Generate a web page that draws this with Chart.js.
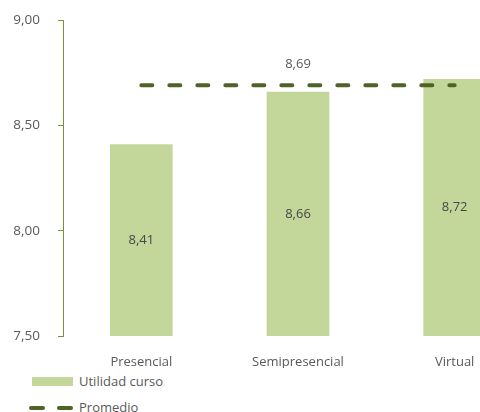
<!DOCTYPE html>
<html>
<head>
<meta charset="utf-8">
<script src="https://cdn.jsdelivr.net/npm/chart.js@4.4.0/dist/chart.umd.min.js"></script>
<style>
    body { margin: 0; overflow: hidden; background: #fff; font-family: 'Open Sans', sans-serif; }
    #wrap { position: relative; width: 540px; height: 412px; }
    #legenda { position: absolute; left: 29px; top: 370px; font-size: 13px; color: #595959; white-space: nowrap; }
    .item { position: relative; height: 26px; width: 200px; }
    .item span { position: absolute; left: 50px; top: 2px; }
    .caixa { position: absolute; left: 3px; top: 7px; width: 41px; height: 9px; background: #c4d79b; }
    .traco { position: absolute; top: 10px; width: 16px; height: 4px; border-radius: 2px; background: #4f6228; }
</style>
</head>
<body>
<div id="wrap">
    <canvas id="chartUtilidade" width="540" height="368"></canvas>
    <div id="legenda">
        <div class="item"><div class="caixa"></div><span>Utilidad curso</span></div>
        <div class="item"><div class="traco" style="left:0px"></div><div class="traco" style="left:28px"></div><span>Promedio</span></div>
    </div>
</div>
<script>
var modalidades = ['Presencial', 'Semipresencial', 'Virtual'];
var utilidadCurso = [8.41, 8.66, 8.72];
var promedio = [8.69, 8.69, 8.69];
var ticksY = [7.5, 8.0, 8.5, 9.0];

var corTexto = '#595959';
var corEixo = '#76923c';

function formatar(v) {
    return v.toFixed(2).replace('.', ',');
}

// rótulos dos valores (barras no meio, promedio só no ponto do meio)
var rotulos = {
    id: 'rotulos',
    afterDatasetsDraw: function (chart) {
        var ctx = chart.ctx;
        var escalaY = chart.scales.y;
        var base = escalaY.getPixelForValue(escalaY.min);
        ctx.save();
        ctx.font = '13px "Open Sans"';
        ctx.textAlign = 'center';
        ctx.textBaseline = 'middle';
        ctx.fillStyle = '#474747';
        var barras = chart.getDatasetMeta(1).data;
        barras.forEach(function (b, i) {
            var topo = escalaY.getPixelForValue(utilidadCurso[i]);
            ctx.fillText(formatar(utilidadCurso[i]), b.x, (topo + base) / 2);
        });
        ctx.fillStyle = corTexto;
        var pontos = chart.getDatasetMeta(0).data;
        ctx.fillText(formatar(promedio[1]), pontos[1].x, escalaY.getPixelForValue(promedio[1]) - 21);
        ctx.restore();
    }
};

new Chart(document.getElementById('chartUtilidade'), {
    type: 'bar',
    data: {
        labels: modalidades,
        datasets: [{
            type: 'line',
            label: 'Promedio',
            data: promedio,
            borderColor: '#4f6228',
            borderWidth: 4,
            borderDash: [11, 17],
            borderCapStyle: 'round',
            pointRadius: 0,
            fill: false,
            order: 0
        }, {
            label: 'Utilidad curso',
            data: utilidadCurso,
            backgroundColor: '#c4d79b',
            barPercentage: 0.4,
            categoryPercentage: 1,
            order: 1
        }]
    },
    options: {
        responsive: false,
        animation: false,
        layout: { padding: { top: 20, left: 0, right: 7, bottom: 0 } },
        plugins: {
            legend: { display: false },
            tooltip: { enabled: false }
        },
        scales: {
            x: {
                grid: { display: false },
                border: { display: false },
                ticks: { color: corTexto, font: { family: 'Open Sans', size: 13 }, padding: 10 },
                afterFit: function (s) { s.height = 32; }
            },
            y: {
                min: 7.5,
                max: 9,
                afterBuildTicks: function (s) {
                    s.ticks = ticksY.map(function (v) { return { value: v }; });
                },
                grid: { drawOnChartArea: false, drawTicks: true, tickLength: 5, color: corEixo },
                border: { display: true, color: corEixo, width: 1 },
                ticks: {
                    color: corTexto,
                    font: { family: 'Open Sans', size: 13.5 },
                    padding: 18,
                    callback: function (v) { return formatar(v); }
                },
                afterFit: function (s) {
                    s.width = 63;
                    s.paddingTop = 8;
                    s.paddingBottom = 8;
                }
            }
        }
    },
    plugins: [rotulos]
});
</script>
</body>
</html>
